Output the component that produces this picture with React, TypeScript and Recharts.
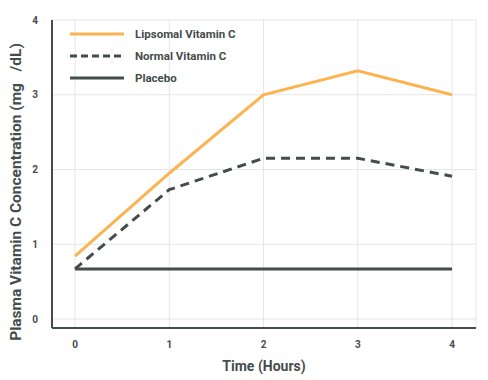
import React from 'react';
import { LineChart, Line, XAxis, YAxis, CartesianGrid } from 'recharts';

const hours = [0, 1, 2, 3, 4];
const liposomal = [0.84, 1.95, 3.0, 3.32, 3.0];
const normal = [0.67, 1.73, 2.15, 2.15, 1.91];
const placebo = [0.67, 0.67, 0.67, 0.67, 0.67];
const yTicks = [0, 1, 2, 3, 4];

const data = hours.map((h, i) => ({
    hour: h,
    liposomal: liposomal[i],
    normal: normal[i],
    placebo: placebo[i],
}));

const FONT = '"Liberation Sans Narrow", "Roboto", sans-serif';
const DARK = '#454c4c';
const ORANGE = '#fcb452';

const legendItems = [
    { name: 'Lipsomal Vitamin C', color: ORANGE, dash: undefined },
    { name: 'Normal Vitamin C', color: DARK, dash: '7 4' },
    { name: 'Placebo', color: DARK, dash: undefined },
];

// legend sits over the plot, so it's drawn outside recharts' layout
const ChartLegend = () => (
    <div
        style={{
            position: 'absolute',
            left: 69,
            top: 23,
            fontFamily: FONT,
            fontSize: 11.5,
            fontWeight: 700,
            color: DARK,
        }}
    >
        {legendItems.map((item) => (
            <div key={item.name} style={{ display: 'flex', alignItems: 'center', height: 22 }}>
                <svg width={56} height={6} style={{ marginRight: 10 }}>
                    <line x1={1} y1={3} x2={55} y2={3} stroke={item.color} strokeWidth={3} strokeDasharray={item.dash} />
                </svg>
                <span>{item.name}</span>
            </div>
        ))}
    </div>
);

// y title is placed off-centre in the original, with a gap before "/dL)"
const YTitle = () => (
    <svg width={30} height={380} style={{ position: 'absolute', left: 0, top: 0 }}>
        <text
            x={16}
            y={192}
            transform="rotate(-90 16 192)"
            textAnchor="middle"
            dominantBaseline="central"
            fill={DARK}
            fontFamily={FONT}
            fontSize={15.5}
            fontWeight={700}
            style={{ whiteSpace: 'pre' }}
        >
            {'Plasma Vitamin C Concentration (mg   /dL)'}
        </text>
    </svg>
);

export default function App() {
    return (
        <div style={{ position: 'absolute', left: 0, top: 0, width: 488, height: 380, background: '#fff' }}>
            <LineChart width={488} height={380} data={data} margin={{ top: 20, right: 12, left: 0, bottom: 0 }}>
                <CartesianGrid stroke="#e6e6e6" />
                <XAxis
                    dataKey="hour"
                    type="number"
                    domain={[0, 4]}
                    ticks={hours}
                    height={52}
                    padding={{ left: 23, right: 24 }}
                    tickLine={false}
                    tickSize={0}
                    tickMargin={13}
                    axisLine={{ stroke: DARK, strokeWidth: 2 }}
                    tick={{ fill: DARK, fontSize: 10, fontWeight: 700, fontFamily: FONT }}
                    label={{
                        value: 'Time (Hours)',
                        position: 'insideBottom',
                        offset: 9,
                        fill: DARK,
                        fontSize: 14,
                        fontWeight: 700,
                        fontFamily: FONT,
                    }}
                />
                <YAxis
                    type="number"
                    domain={[0, 4]}
                    ticks={yTicks}
                    width={52}
                    padding={{ top: 0, bottom: 9 }}
                    tickLine={false}
                    tickSize={0}
                    tickMargin={14}
                    axisLine={{ stroke: DARK, strokeWidth: 2 }}
                    tick={{ fill: DARK, fontSize: 10, fontWeight: 700, fontFamily: FONT }}
                />
                <Line
                    dataKey="liposomal"
                    stroke={ORANGE}
                    strokeWidth={3}
                    dot={false}
                    isAnimationActive={false}
                />
                <Line
                    dataKey="normal"
                    stroke={DARK}
                    strokeWidth={3}
                    strokeDasharray="9 6"
                    dot={false}
                    isAnimationActive={false}
                />
                <Line
                    dataKey="placebo"
                    stroke={DARK}
                    strokeWidth={3}
                    dot={false}
                    isAnimationActive={false}
                />
            </LineChart>
            <YTitle />
            <ChartLegend />
        </div>
    );
}
